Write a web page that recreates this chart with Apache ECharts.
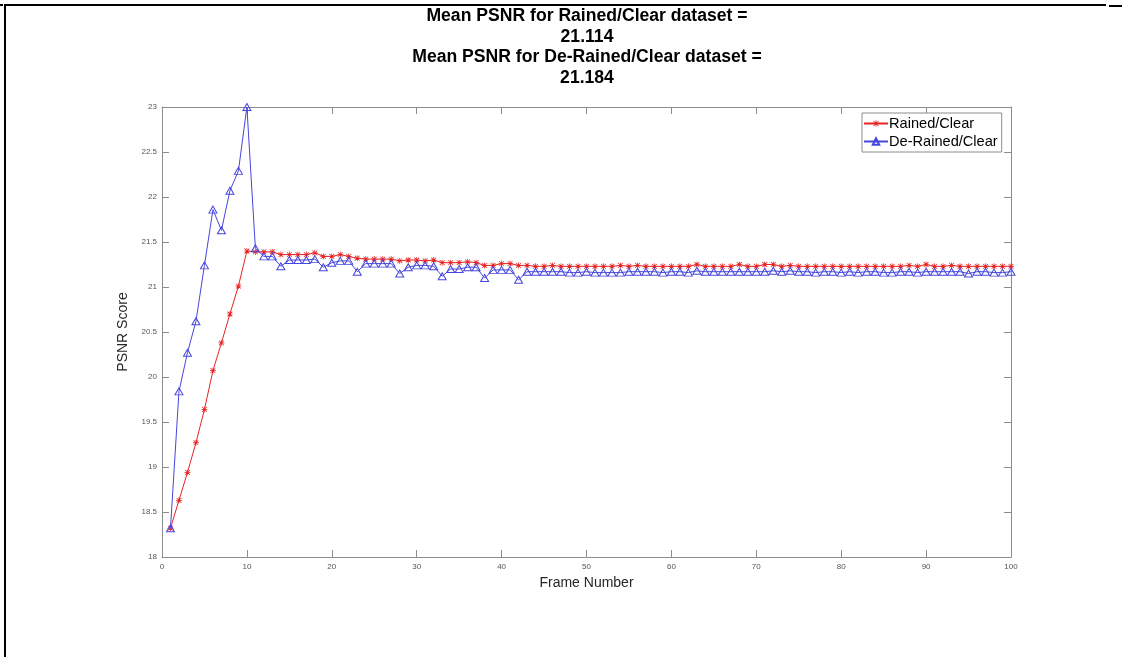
<!DOCTYPE html>
<html>
<head>
<meta charset="utf-8">
<script src="https://cdn.jsdelivr.net/npm/echarts@6/dist/echarts.min.js"></script>
<style>
html,body{margin:0;padding:0;background:#fff;}
#chart{width:1122px;height:657px;}
</style>
</head>
<body>
<div id="chart"></div>
<script>
// ---- data ----
const titleLines = ["Mean PSNR for Rained/Clear dataset =", "21.114", "Mean PSNR for De-Rained/Clear dataset =", "21.184"];
const seriesNames = ["Rained/Clear", "De-Rained/Clear"];
const frames = Array.from({length: 100}, (_, i) => i + 1);
const rainedClear = [
  18.32, 18.63, 18.94, 19.27, 19.64, 20.07, 20.38, 20.70, 21.01, 21.40,
  21.39, 21.39, 21.39, 21.36, 21.36, 21.36, 21.36, 21.38, 21.34, 21.34,
  21.36, 21.34, 21.32, 21.31, 21.31, 21.31, 21.31, 21.29, 21.30, 21.30,
  21.29, 21.30, 21.27, 21.27, 21.27, 21.28, 21.27, 21.24, 21.24, 21.26,
  21.26, 21.24, 21.24, 21.23, 21.23, 21.24, 21.23, 21.23, 21.23, 21.23,
  21.23, 21.23, 21.23, 21.24, 21.23, 21.24, 21.23, 21.23, 21.23, 21.23,
  21.23, 21.23, 21.25, 21.23, 21.23, 21.23, 21.23, 21.25, 21.23, 21.23,
  21.25, 21.25, 21.23, 21.24, 21.23, 21.23, 21.23, 21.23, 21.23, 21.23,
  21.23, 21.23, 21.23, 21.23, 21.23, 21.23, 21.23, 21.24, 21.23, 21.25,
  21.23, 21.23, 21.24, 21.23, 21.23, 21.23, 21.23, 21.23, 21.23, 21.23
];
const deRainedClear = [
  18.32, 19.84, 20.27, 20.62, 21.24, 21.86, 21.63, 22.07, 22.29, 23.00,
  21.43, 21.34, 21.34, 21.23, 21.30, 21.30, 21.30, 21.31, 21.22, 21.27,
  21.29, 21.29, 21.17, 21.26, 21.26, 21.26, 21.26, 21.15, 21.22, 21.24,
  21.24, 21.23, 21.12, 21.20, 21.20, 21.22, 21.22, 21.10, 21.19, 21.19,
  21.19, 21.08, 21.17, 21.17, 21.17, 21.17, 21.17, 21.16, 21.16, 21.17,
  21.16, 21.16, 21.16, 21.16, 21.17, 21.17, 21.17, 21.17, 21.16, 21.17,
  21.17, 21.16, 21.18, 21.17, 21.17, 21.17, 21.17, 21.17, 21.17, 21.17,
  21.17, 21.18, 21.17, 21.18, 21.17, 21.17, 21.16, 21.17, 21.17, 21.16,
  21.17, 21.16, 21.17, 21.17, 21.16, 21.16, 21.17, 21.17, 21.16, 21.17,
  21.17, 21.17, 21.17, 21.17, 21.15, 21.17, 21.17, 21.16, 21.16, 21.17
];
const xTicks = {min: 0, max: 100, interval: 10};
const yTicks = {min: 18, max: 23, interval: 0.5};

// ---- chart ----
const chart = echarts.init(document.getElementById('chart'), null, {renderer: 'canvas'});
const axisColor = '#8c8c8c';
const asterisk = 'path://M4.4 0 L5.6 0 L5.6 10 L4.4 10 Z M0 4.4 L10 4.4 L10 5.6 L0 5.6 Z M0.6 1.5 L1.5 0.6 L9.4 8.5 L8.5 9.4 Z M8.5 0.6 L9.4 1.5 L1.5 9.4 L0.6 8.5 Z';
const font = 'Liberation Sans, Arial, sans-serif';

function boxAxis(base, pos) {
  return Object.assign({
    type: 'value', position: pos,
    axisLine: {show: true, onZero: false, lineStyle: {color: axisColor, width: 1}},
    axisTick: {show: true, inside: true, length: 7, lineStyle: {color: axisColor}},
    axisLabel: {show: false},
    splitLine: {show: false}
  }, base);
}

const option = {
  backgroundColor: '#fff',
  animation: false,
  title: {
    text: titleLines.join('\n'),
    left: 582, top: 1, textAlign: 'center',
    textStyle: {fontFamily: font, fontSize: 17.6, fontWeight: 'bold', color: '#000', lineHeight: 20.5}
  },
  legend: {
    data: seriesNames,
    orient: 'vertical',
    left: 862, top: 113,
    itemWidth: 24, itemHeight: 8, itemGap: 3,
    padding: [3, 4, 3, 1],
    borderColor: '#8c8c8c', borderWidth: 1,
    backgroundColor: '#fff',
    textStyle: {fontFamily: font, fontSize: 14.6, color: '#000', padding: [0, 0, 0, -4]}
  },
  grid: {left: 162, right: 111, top: 107, bottom: 100, containLabel: false},
  xAxis: [
    boxAxis({
      min: xTicks.min, max: xTicks.max, interval: xTicks.interval,
      name: 'Frame Number', nameLocation: 'middle', nameGap: 19,
      nameTextStyle: {fontFamily: font, fontSize: 14, color: '#262626'},
      axisLabel: {show: true, fontFamily: font, fontSize: 8, color: '#555', margin: 6}
    }, 'bottom'),
    boxAxis({min: xTicks.min, max: xTicks.max, interval: xTicks.interval}, 'top')
  ],
  yAxis: [
    boxAxis({
      min: yTicks.min, max: yTicks.max, interval: yTicks.interval,
      name: 'PSNR Score', nameLocation: 'middle', nameGap: 13,
      nameTextStyle: {fontFamily: font, fontSize: 14, color: '#262626'},
      axisLabel: {show: true, fontFamily: font, fontSize: 8, color: '#555', margin: 5}
    }, 'left'),
    boxAxis({min: yTicks.min, max: yTicks.max, interval: yTicks.interval}, 'right')
  ],
  graphic: [
    {type: 'line', shape: {x1: 0, y1: 5, x2: 3, y2: 5}, style: {stroke: '#000', lineWidth: 2}},
    {type: 'line', shape: {x1: 5, y1: 5, x2: 1106, y2: 5}, style: {stroke: '#000', lineWidth: 2}},
    {type: 'line', shape: {x1: 1109, y1: 6, x2: 1122, y2: 6}, style: {stroke: '#000', lineWidth: 2}},
    {type: 'line', shape: {x1: 5, y1: 4, x2: 5, y2: 657}, style: {stroke: '#000', lineWidth: 2}}
  ],
  series: [
    {
      name: seriesNames[0], type: 'line',
      xAxisIndex: 0, yAxisIndex: 0,
      data: frames.map((f, i) => [f, rainedClear[i]]),
      symbol: asterisk, symbolSize: 6, showAllSymbol: true,
      lineStyle: {color: '#e82424', width: 1},
      itemStyle: {color: '#e82424'},
      z: 2
    },
    {
      name: seriesNames[1], type: 'line',
      xAxisIndex: 0, yAxisIndex: 0,
      data: frames.map((f, i) => [f, deRainedClear[i]]),
      symbol: 'triangle', symbolSize: [8, 7], showAllSymbol: true,
      lineStyle: {color: '#4646dc', width: 1},
      itemStyle: {color: 'rgba(255,255,255,0)', borderColor: '#4646dc', borderWidth: 1},
      z: 3
    }
  ]
};
chart.setOption(option);
</script>
</body>
</html>
